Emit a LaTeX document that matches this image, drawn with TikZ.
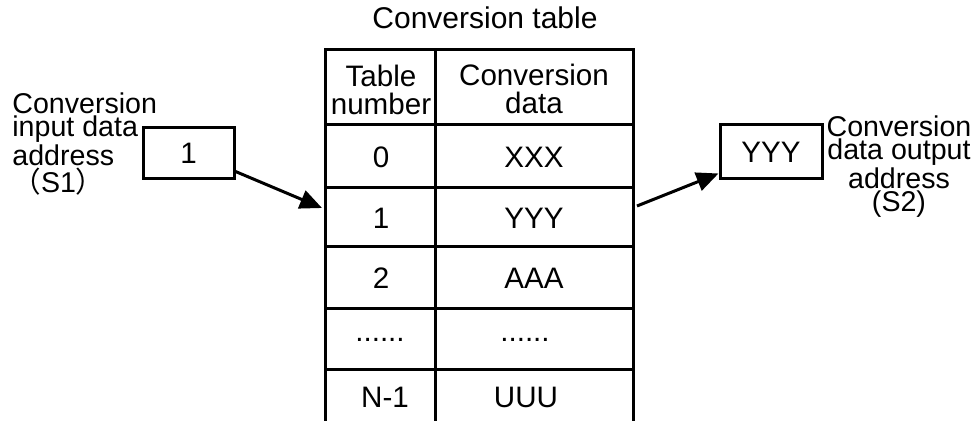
\documentclass[tikz,border=0pt]{standalone}
\usepackage{fontspec}
\setmainfont{Liberation Sans}
\newfontfamily\cjk{Noto Sans CJK SC}
\usetikzlibrary{arrows.meta}
\begin{document}
\begin{tikzpicture}[x=0.5pt,y=-0.5pt,
  grid/.style={line width=1.5pt},
  cell/.style={inner sep=0pt,font=\fontsize{14.8}{14}\selectfont,align=center},
  lbl/.style={inner sep=0pt,font=\fontsize{14.3}{11.8}\selectfont},
  valbox/.style={draw,line width=1.5pt,inner sep=0pt,font=\fontsize{14.8}{14}\selectfont},
  arr/.style={line width=1.5pt,-{Triangle[length=11pt,width=9.5pt]}}]
\useasboundingbox (0,0) rectangle (976,421);
% title
\node[cell,font=\fontsize{15}{14}\selectfont] (title) at (485,18) {Conversion table};
% table grid
\draw[grid] (325,421) -- (325,50) -- (633,50) -- (633,421);
\draw[grid] (435,50) -- (435,421);
\foreach \yy in {125,188,247,309,370}
  \draw[grid] (325,\yy) -- (633,\yy);
% header
\node[cell] (h1) at (381,90) {Table\\number};
\node[cell] (h2) at (534,89) {Conversion\\data};
% rows
\node[cell] (n0) at (381,157) {0};
\node[cell] (d0) at (534,157) {XXX};
\node[cell] (n1) at (381,218) {1};
\node[cell] (d1) at (534,218) {YYY};
\node[cell] (n2) at (381,278) {2};
\node[cell] (d2) at (534,278) {AAA};
\node[cell] (n3) at (380,340) {......};
\node[cell] (d3) at (525,340) {......};
\node[cell] (n4) at (385,397) {N-1};
\node[cell] (d4) at (526,397) {UUU};
% left
\node[valbox,minimum width=45.5pt,minimum height=25.5pt] (b1) at (188.5,153.5) {1};
\node[lbl,anchor=north west,align=left] (l1) at (12,92)
  {Conversion\\input data\\address\\{\cjk （}S1{\cjk ）}};
% right
\node[valbox,minimum width=51pt,minimum height=27pt] (b2) at (771,152) {YYY};
\node[lbl,anchor=north,align=center] (l2) at (899,115)
  {Conversion\\data output\\address\\(S2)};
% arrows
\coordinate (tin) at (322,208);
\coordinate (tout) at (637,206);
\draw[arr] ([yshift=4.5pt]b1.south east) -- (tin);
\draw[arr] (tout) -- ([yshift=3.5pt]b2.south west);
\end{tikzpicture}
\end{document}
